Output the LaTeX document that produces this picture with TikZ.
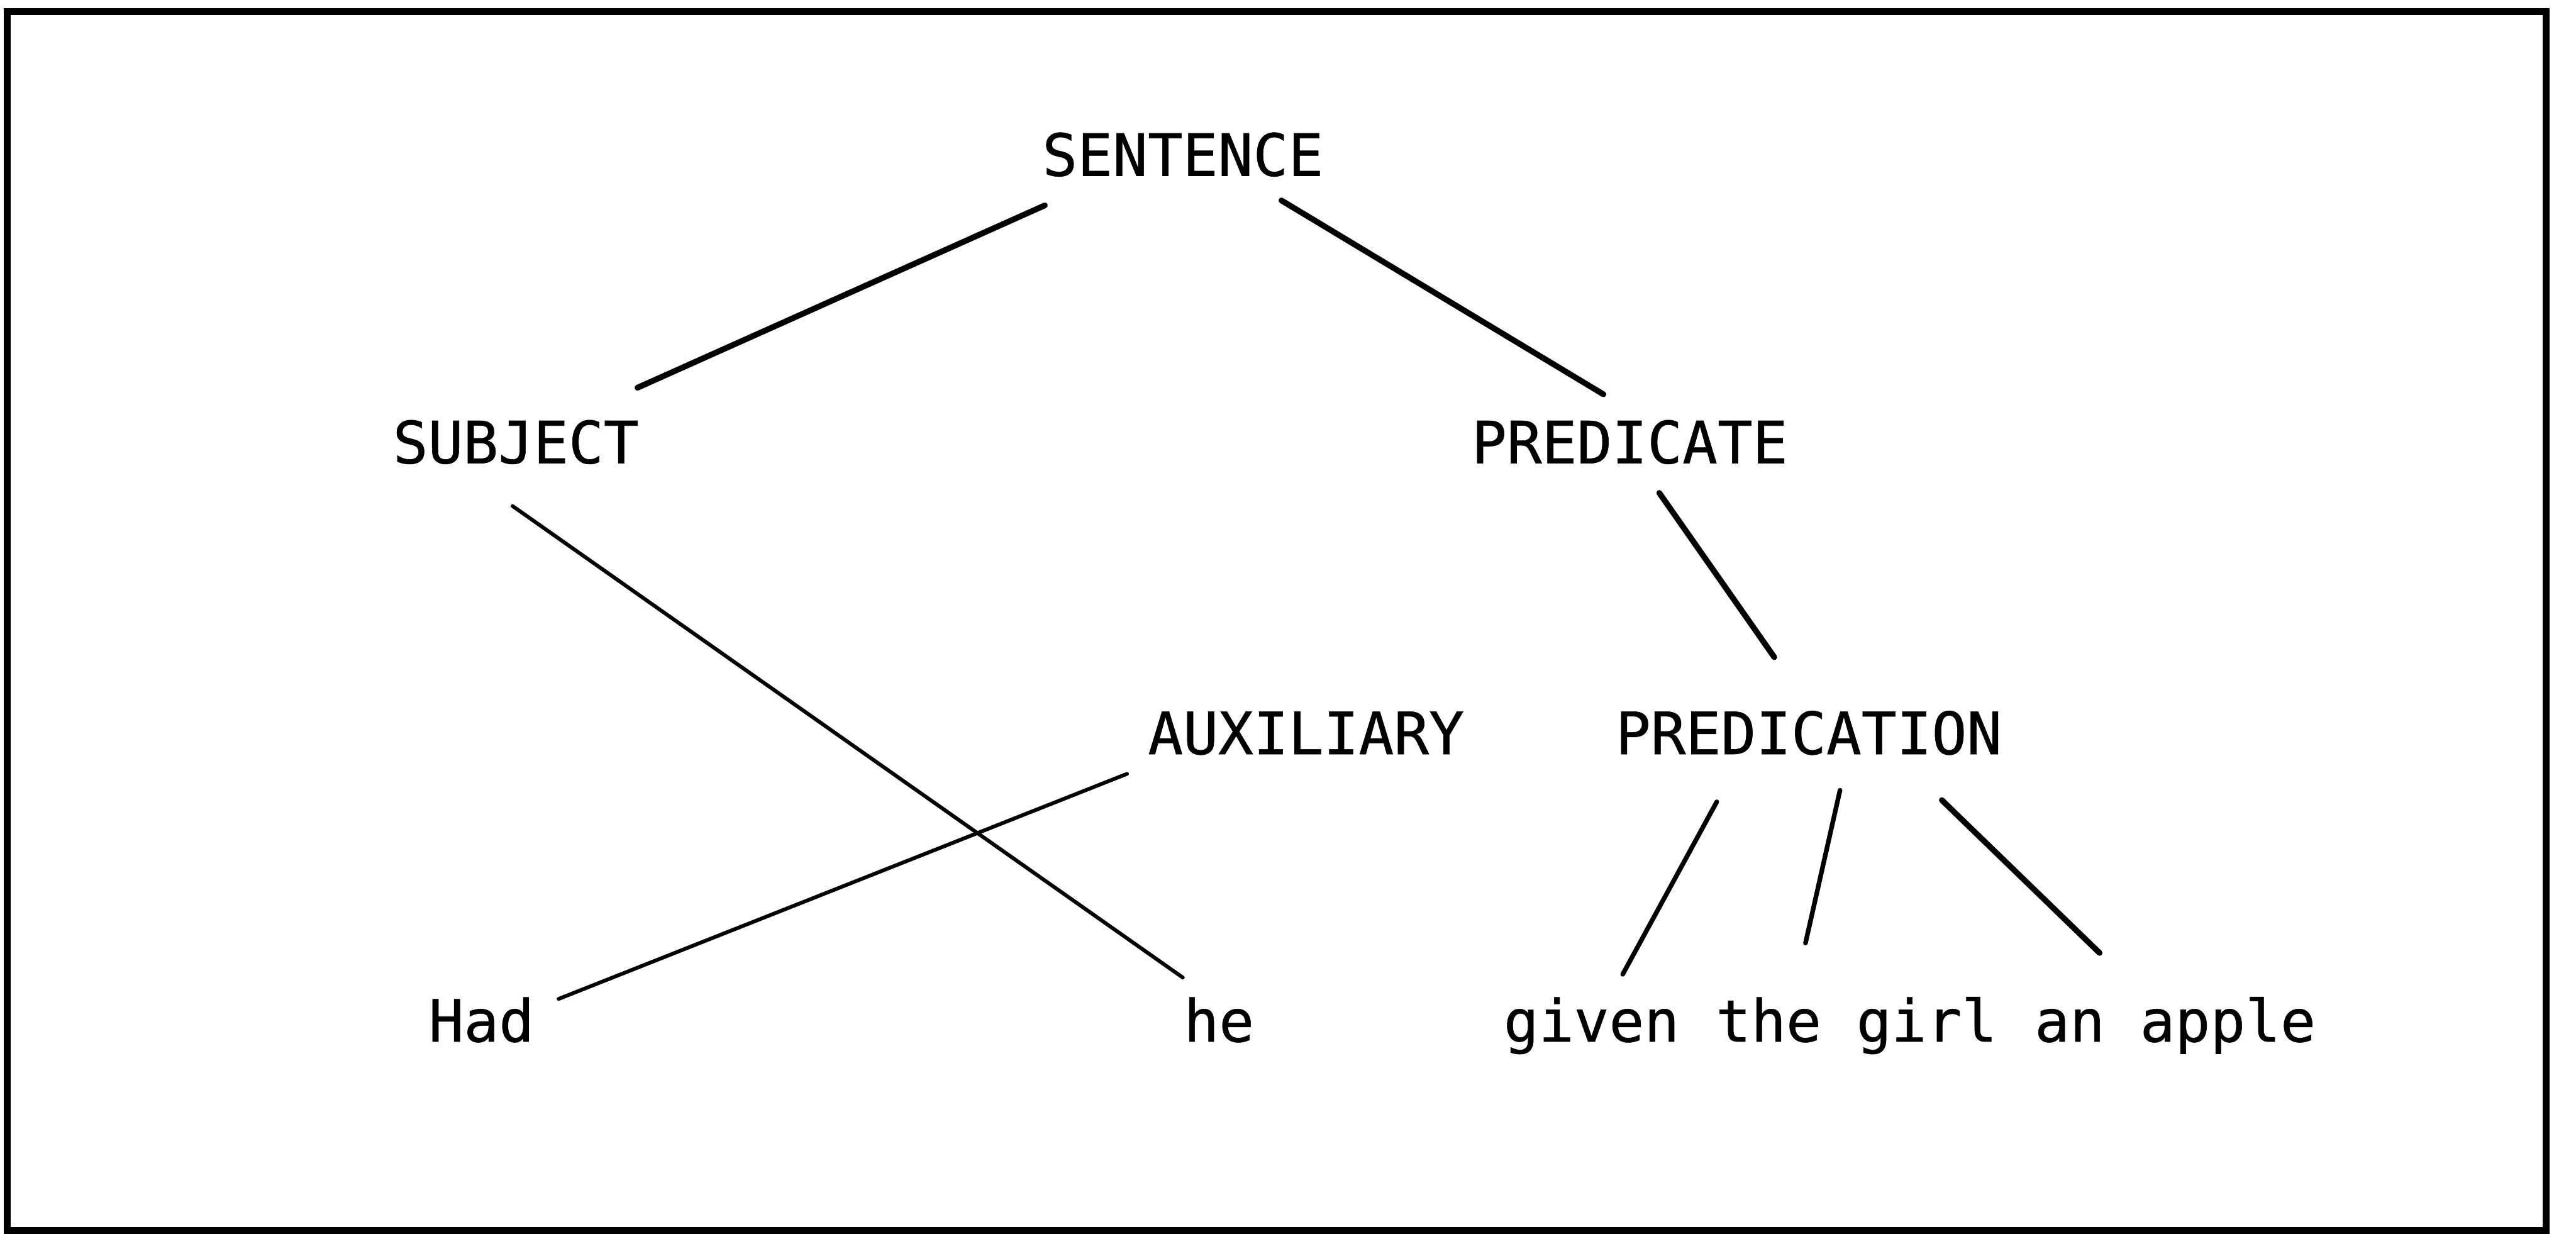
\documentclass[tikz,border=0pt]{standalone}
\usepackage{fontspec}
\setmonofont[FakeBold=0.6]{DejaVu Sans Mono}
\usetikzlibrary{calc}
\begin{document}
\begin{tikzpicture}[x=0.01cm,y=-0.01cm,
  lbl/.style={anchor=base,inner sep=0pt,font=\ttfamily\fontsize{10.1pt}{12pt}\selectfont},
  thick link/.style={line width=1pt,line cap=round},
  thin link/.style={line width=0.65pt,line cap=round},
  mid link/.style={line width=0.8pt,line cap=round},
  frame/.style={line width=1.2pt}]
\useasboundingbox (0,0) rectangle (1568,751);
\draw[frame] (4.5,7) rectangle (1550,749);
% nodes
\node[lbl] (sentence)    at (720,107) {SENTENCE};
\node[lbl] (subject)     at (314,282) {SUBJECT};
\node[lbl] (predicate)   at (992,282) {PREDICATE};
\node[lbl] (auxiliary)   at (795,459) {AUXILIARY};
\node[lbl] (predication) at (1101,459) {PREDICATION};
\node[lbl] (had)         at (293,634) {Had};
\node[lbl] (he)          at (742,634) {he};
\node[lbl] (given)       at (968.75,634) {given};
\node[lbl] (thegirl)     at (1130,634) {the girl};
\node[lbl] (anapple)     at (1324,634) {an apple};
% connectors
\draw[thick link] ($(sentence.base)+(-84,18)$) -- ($(subject.base)+(74,-46)$);
\draw[thick link] ($(sentence.base)+(60,15)$) -- ($(predicate.base)+(-16,-42)$);
\draw[thin link] ($(subject.base)+(-2,26)$) -- ($(he.base)+(-22,-39)$);
\draw[thick link] ($(predicate.base)+(18,18)$) -- ($(predication.base)+(-21,-59)$);
\draw[thin link] ($(auxiliary.base)+(-109,12)$) -- ($(had.base)+(47,-26)$);
\draw[mid link] ($(predication.base)+(-56,29)$) -- ($(given.base)+(19,-41)$);
\draw[mid link] ($(predication.base)+(19,22)$) -- ($(thegirl.base)+(-31,-60)$);
\draw[thick link] ($(predication.base)+(81,28)$) -- ($(anapple.base)+(-46,-54)$);
\end{tikzpicture}
\end{document}
